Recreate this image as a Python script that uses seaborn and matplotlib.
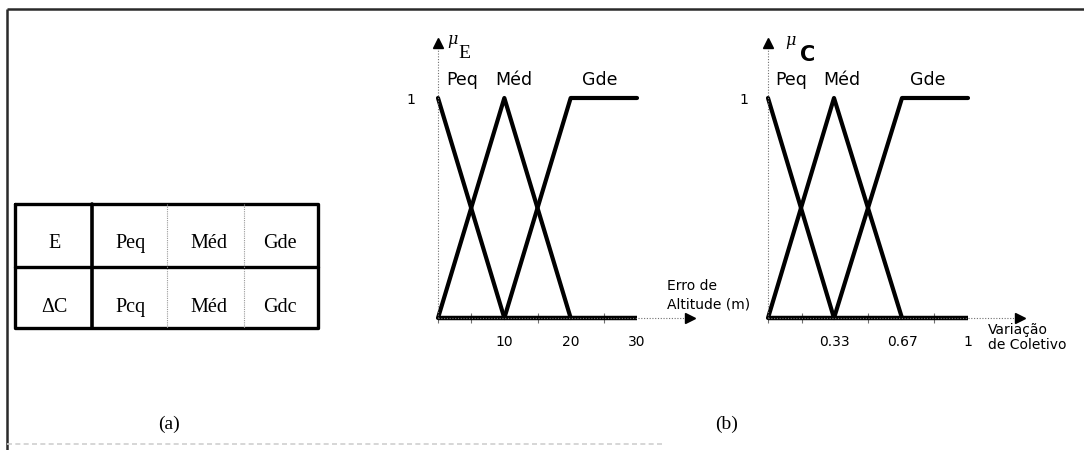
import numpy as np
import pandas as pd
import matplotlib
matplotlib.use("Agg")
import matplotlib.pyplot as plt
import seaborn as sns

# ---------------- data ----------------
set_names = ["Peq", "Méd", "Gde"]

# membership functions, panel E (Erro de Altitude, m)
e_peq_x, e_peq_mu = [0, 10], [1, 0]
e_med_x, e_med_mu = [0, 10, 20], [0, 1, 0]
e_gde_x, e_gde_mu = [10, 20, 30], [0, 1, 1]
e_tick_vals = [10, 20, 30]
e_tick_labels = ["10", "20", "30"]
e_minor_ticks = [0, 5, 10, 15, 20, 25, 30]

# membership functions, panel C (Variação de Coletivo)
c_peq_x, c_peq_mu = [0, 0.33], [1, 0]
c_med_x, c_med_mu = [0, 0.33, 0.67], [0, 1, 0]
c_gde_x, c_gde_mu = [0.33, 0.67, 1], [0, 1, 1]
c_tick_vals = [0.33, 0.67, 1]
c_tick_labels = ["0.33", "0.67", "1"]
c_minor_ticks = [0, 0.17, 0.33, 0.5, 0.67, 0.83, 1]

# linguistic table
table_rows = ["E", "ΔC"]
table_cells = [["Peq", "Méd", "Gde"], ["Pcq", "Méd", "Gdc"]]


def make_df(xs, mus):
    frames = []
    for name, x, m in zip(set_names, xs, mus):
        frames.append(pd.DataFrame({"x": x, "mu": m, "set": name}))
    return pd.concat(frames, ignore_index=True)


df_e = make_df([e_peq_x, e_med_x, e_gde_x], [e_peq_mu, e_med_mu, e_gde_mu])
df_c = make_df([c_peq_x, c_med_x, c_gde_x], [c_peq_mu, c_med_mu, c_gde_mu])

# ---------------- figure ----------------
sns.set_theme(style="white")
plt.rcParams["font.family"] = ["DejaVu Sans"]
plt.rcParams["text.color"] = "black"
plt.rcParams["xtick.labelcolor"] = "black"
plt.rcParams["ytick.labelcolor"] = "black"

W, H = 1084, 450
fig = plt.figure(figsize=(W / 100, H / 100), dpi=100)
fig.patch.set_facecolor("white")

# background axes in pixel coordinates (frame, table, captions)
bg = fig.add_axes([0, 0, 1, 1])
bg.set_xlim(0, W)
bg.set_ylim(H, 0)
bg.axis("off")
frame_col = "#2a2a2a"
bg.plot([7, 7], [H, 9], color=frame_col, lw=1.8, solid_capstyle="butt")
bg.plot([7, W], [9, 9], color=frame_col, lw=1.8, solid_capstyle="butt")
bg.plot([7, 665], [444, 444], color="#cfcfcf", lw=1.2, ls=(0, (3, 2)))

# table
tx0, tx1, ty0, ty1, tym = 15, 318, 204, 328, 267
col_edges = [15, 92, 167, 244, 318]
bg.plot([tx0, tx1, tx1, tx0, tx0], [ty0, ty0, ty1, ty1, ty0], color="black", lw=2.4)
bg.plot([tx0, tx1], [tym, tym], color="black", lw=2.4)
bg.plot([col_edges[1], col_edges[1]], [ty0, ty1], color="black", lw=2.6)
for cx in col_edges[2:4]:
    bg.plot([cx, cx], [ty0, ty1], color="#9a9a9a", lw=0.8, ls=(0, (1, 1)))
row_baselines = [248, 312]
cell_offsets = [1, 3, -1]
for r, (rname, cells) in enumerate(zip(table_rows, table_cells)):
    bg.text((col_edges[0] + col_edges[1]) / 2 + 1, row_baselines[r], rname,
            ha="center", va="baseline", fontsize=14.5, family="Liberation Serif")
    for c, txt in enumerate(cells):
        bg.text((col_edges[c + 1] + col_edges[c + 2]) / 2 + cell_offsets[c],
                row_baselines[r], txt, ha="center", va="baseline", fontsize=14.5,
                family="Liberation Serif")

bg.text(169, 424, "(a)", ha="center", va="center", fontsize=14, family="Liberation Serif")
bg.text(727, 424, "(b)", ha="center", va="center", fontsize=14, family="Liberation Serif")


def panel(px_origin, px_unit, px_end, df, minor, tvals, tlabels, ylab_pad):
    y_base, y_one, y_top = 318, 98, 43
    xmax_data = (px_end - px_origin) / px_unit
    ymax_data = (y_base - y_top) / (y_base - y_one)
    ax = fig.add_axes([px_origin / W, (H - y_base) / H,
                       (px_end - px_origin) / W, (y_base - y_top) / H])
    ax.patch.set_alpha(0)
    sns.lineplot(data=df, x="x", y="mu", units="set", estimator=None,
                 color="black", lw=3.0, sort=False, legend=False, ax=ax,
                 clip_on=False)
    ax.hlines(0, minor[0], minor[-1], color="black", lw=3.2, clip_on=False)
    ax.set_xlim(0, xmax_data)
    ax.set_ylim(0, ymax_data)
    for s in ax.spines.values():
        s.set_visible(False)
    # axis lines (thin dotted) with arrowheads
    ax.plot([0, 0], [0, 1], transform=ax.transAxes, color="#707070", lw=0.8,
            ls=(0, (1, 1.5)), clip_on=False)
    ax.plot([0, 1], [0, 0], transform=ax.transAxes, color="#707070", lw=0.8,
            ls=(0, (1, 1.5)), clip_on=False)
    ax.plot([0], [1], transform=ax.transAxes, marker="^", ms=7, color="black",
            clip_on=False)
    ax.plot([1], [0], transform=ax.transAxes, marker=">", ms=7, color="black",
            clip_on=False)
    ax.set_xticks(tvals)
    ax.set_xticklabels(tlabels, fontsize=10, color="black")
    ax.set_xticks(minor, minor=True)
    ax.tick_params(axis="x", which="major", length=0, pad=12)
    ax.tick_params(axis="x", which="minor", length=7, width=0.8,
                   direction="inout", color="#707070", bottom=True)
    ax.set_yticks([1])
    ax.set_yticklabels(["1"], fontsize=10, color="black")
    ax.tick_params(axis="y", length=0, pad=ylab_pad)
    ax.set_xlabel("")
    ax.set_ylabel("")
    return ax


# panel E
axE = panel(438, 199 / 30, 690, df_e, e_minor_ticks, e_tick_vals, e_tick_labels, 16)
for name, xp in zip(set_names, [3.6, 11.5, 24.4]):
    axE.text(xp, 1.059, name, ha="center", va="baseline", fontsize=12.5)
axE.text(1.36, 1.245, "μ", ha="left", va="baseline", fontsize=11.5,
         family="DejaVu Serif", style="italic")
axE.text(3.0, 1.18, "E", ha="left", va="baseline", fontsize=14,
         family="Liberation Serif")
axE.text(34.5, 0.105, "Erro de\nAltitude (m)", ha="left", va="center", fontsize=10,
         linespacing=1.4)

# panel C
axC = panel(768, 200, 1020, df_c, c_minor_ticks, c_tick_vals, c_tick_labels, 14)
for name, xp in zip(set_names, [0.115, 0.37, 0.80]):
    axC.text(xp, 1.059, name, ha="center", va="baseline", fontsize=12.5)
axC.text(0.085, 1.24, "μ", ha="left", va="baseline", fontsize=11.5,
         family="DejaVu Serif", style="italic")
axC.text(0.16, 1.17, "C", ha="left", va="baseline", fontsize=15, fontweight="bold")
axC.text(1.10, -0.09, "Variação\nde Coletivo", ha="left", va="center", fontsize=10,
         linespacing=1.1)

fig.savefig("out.png", dpi=100, facecolor="white")
